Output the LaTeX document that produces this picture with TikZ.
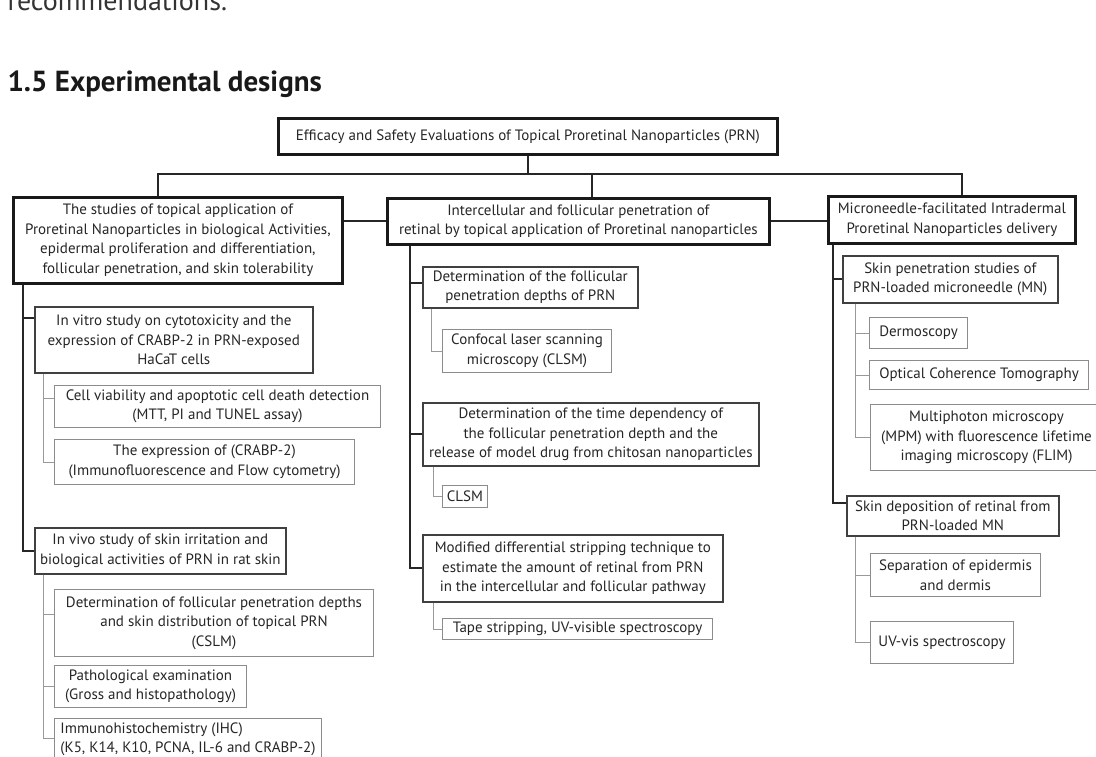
\documentclass[tikz,border=0pt]{standalone}
\usepackage{fontspec}
\setmainfont{PT Sans}

\tikzset{
    caja/.style={draw=black!90, line width=2.8pt, inner sep=2pt, align=center, anchor=north west,
        text=black!85, font=\fontsize{15}{19.5}\selectfont},
    cajamedia/.style={caja, draw=black!75, line width=1.6pt},
    cajafina/.style={caja, draw=black!45, line width=1pt},
    tronco/.style={draw=black!85, line width=1.8pt},
    rama/.style={draw=black!40, line width=1pt},
}

\begin{document}
\begin{tikzpicture}[x=1pt, y=-1pt]
            % Marco
            \clip (0,0) rectangle (1096,757);
            \fill[white] (0,0) rectangle (1096,757);

            % Textos de la pagina
            \node[anchor=base west, text=black!80, font=\fontsize{28}{30}\selectfont] (recom) at (4,11) {recommendations.};
            \node[anchor=base west, text=black!90, font=\fontsize{29}{30}\selectfont\bfseries] (titulo) at (4,92) {1.5 Experimental designs};

            % Caja principal
            \node[caja, minimum width=499pt, minimum height=36pt] (eficacia) at (277,117)
                {Efficacy and Safety Evaluations of Topical Proretinal Nanoparticles (PRN)};

            % Cajas de primer nivel
            \node[caja, minimum width=329pt, minimum height=86pt] (estudios) at (12,196)
                {The studies of topical application of\\ Proretinal Nanoparticles in biological Activities,\\ epidermal proliferation and differentiation,\\ follicular penetration, and skin tolerability};
            \node[caja, minimum width=382pt, minimum height=46pt] (inter) at (386,197)
                {Intercellular and follicular penetration of\\ retinal by topical application of Proretinal nanoparticles};
            \node[caja, minimum width=247pt, minimum height=47pt] (micro) at (827,195)
                {Microneedle-facilitated Intradermal\\ Proretinal Nanoparticles delivery};

            % Lineas / Barra superior
            \coordinate (barraI) at (158,174);
            \coordinate (barraC) at (592,174);
            \coordinate (barraD) at (962,174);
            \draw[tronco] (eficacia.south) -- (eficacia.south |- barraI);
            \draw[tronco] (barraI |- estudios.north) -- (barraI) -- (barraD) -- (barraD |- micro.north);
            \draw[tronco] (barraC) -- (barraC |- inter.north);
            \draw[tronco] (estudios.east |- inter.west) -- (inter.west);
            \draw[tronco] (inter.east) -- (inter.east -| micro.west);

            % Columna izquierda
            \node[cajamedia, minimum width=278pt, minimum height=66pt] (invitro) at (34,306)
                {In vitro study on cytotoxicity and the\\ expression of CRABP-2 in PRN-exposed\\ HaCaT cells};
            \node[cajafina, minimum width=326pt, minimum height=42pt] (viabilidad) at (54,385)
                {Cell viability and apoptotic cell death detection\\ (MTT, PI and TUNEL assay)};
            \node[cajafina, minimum width=300pt, minimum height=45pt] (expresion) at (54,439)
                {The expression of (CRABP-2)\\ (Immunofluorescence and Flow cytometry)};
            \node[cajamedia, minimum width=251pt, minimum height=46pt] (invivo) at (34,527)
                {In vivo study of skin irritation and\\ biological activities of PRN in rat skin};
            \node[cajafina, minimum width=319pt, minimum height=67pt] (foliculo) at (54,589)
                {Determination of follicular penetration depths\\ and skin distribution of topical PRN\\ (CSLM)};
            \node[cajafina, minimum width=192pt, minimum height=42pt] (patologia) at (54,665)
                {Pathological examination\\ (Gross and histopathology)};
            \node[cajafina, align=left, minimum width=267pt, minimum height=42pt] (ihc) at (54,718)
                {Immunohistochemistry (IHC)\\ (K5, K14, K10, PCNA, IL-6 and CRABP-2)};

            \draw[tronco] ([xshift=11pt]estudios.south west) |- ([yshift=-12pt]invitro.north west);
            \draw[tronco] ([xshift=11pt]estudios.south west) |- (invivo.west);
            \draw[rama] ([xshift=9pt]invitro.south west) |- ([yshift=8pt]viabilidad.west);
            \draw[rama] ([xshift=9pt]invitro.south west) |- (expresion.west);
            \draw[rama] ([xshift=9pt]invivo.south west) |- ([yshift=9pt]foliculo.west);
            \draw[rama] ([xshift=9pt]invivo.south west) |- (patologia.west);
            \draw[rama] ([xshift=9pt]invivo.south west) |- ([yshift=-20pt]ihc.north west);

            % Columna central
            \node[cajamedia, minimum width=215pt, minimum height=41pt] (profund) at (422,266)
                {Determination of the follicular\\ penetration depths of PRN};
            \node[cajafina, minimum width=169pt, minimum height=43pt] (confocal) at (442,329)
                {Confocal laser scanning\\ microscopy (CLSM)};
            \node[cajamedia, minimum width=336pt, minimum height=63pt] (tiempo) at (422,402)
                {Determination of the time dependency of\\ the follicular penetration depth and the\\ release of model drug from chitosan nanoparticles};
            \node[cajafina, minimum width=45pt, minimum height=22pt, inner sep=1pt] (clsm) at (442,485) {CLSM};
            \node[cajamedia, minimum width=300pt, minimum height=67pt] (stripping) at (422,534)
                {Modified differential stripping technique to\\ estimate the amount of retinal from PRN\\ in the intercellular and follicular pathway};
            \node[cajafina, minimum width=270pt, minimum height=21pt, inner sep=1pt] (cinta) at (442,618)
                {Tape stripping, UV-visible spectroscopy};

            \draw[tronco] ([xshift=24pt]inter.south west) |- ([yshift=4pt]profund.west);
            \draw[tronco] ([xshift=24pt]inter.south west) |- (tiempo.west);
            \draw[tronco] ([xshift=24pt]inter.south west) |- (stripping.west);
            \draw[rama] ([xshift=9pt]profund.south west) |- (confocal.west);
            \draw[rama] ([xshift=11pt]tiempo.south west) |- (clsm.west);
            \draw[rama] ([xshift=11pt]stripping.south west) |- (cinta.west);

            % Columna derecha
            \node[cajamedia, minimum width=215pt, minimum height=47pt] (penetra) at (842,255)
                {Skin penetration studies of\\ PRN-loaded microneedle (MN)};
            \node[cajafina, minimum width=98pt, minimum height=31pt] (dermo) at (869,317) {Dermoscopy};
            \node[cajafina, minimum width=219pt, minimum height=29pt] (oct) at (869,360) {Optical Coherence Tomography};
            \node[cajafina, minimum width=232pt, minimum height=66pt] (multi) at (870,404)
                {Multiphoton microscopy\\ (MPM) with fluorescence lifetime\\ imaging microscopy (FLIM)};
            \node[cajamedia, minimum width=212pt, minimum height=40pt] (deposito) at (846,495)
                {Skin deposition of retinal from\\ PRN-loaded MN};
            \node[cajafina, minimum width=170pt, minimum height=43pt] (separa) at (870,553)
                {Separation of epidermis\\ and dermis};
            \node[cajafina, minimum width=143pt, minimum height=42pt] (uvvis) at (870,621) {UV-vis spectroscopy};

            \draw[tronco] ([xshift=6pt]micro.south west) |- (penetra.west);
            \draw[tronco] ([xshift=6pt]micro.south west) |- ([yshift=-8pt]deposito.north west);
            \draw[rama] ([xshift=13pt]penetra.south west) |- (dermo.west);
            \draw[rama] ([xshift=13pt]penetra.south west) |- (oct.west);
            \draw[rama] ([xshift=13pt]penetra.south west) |- (multi.west);
            \draw[rama] ([xshift=9pt]deposito.south west) |- (separa.west);
            \draw[rama] ([xshift=9pt]deposito.south west) |- (uvvis.west);
\end{tikzpicture}
\end{document}
